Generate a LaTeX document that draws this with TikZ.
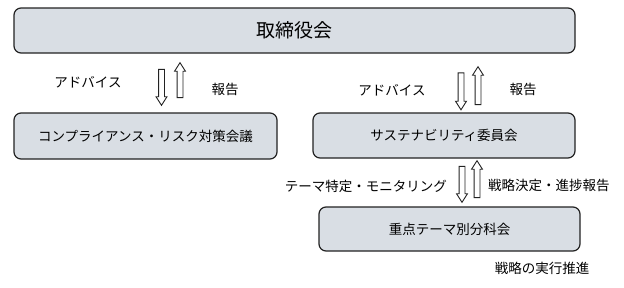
\documentclass[tikz,border=0pt]{standalone}
\usepackage{fontspec}
\setmainfont{Noto Sans CJK JP}
\usetikzlibrary{shapes.arrows}
\definecolor{boxfill}{HTML}{D9DEE4}
\definecolor{edge}{HTML}{222222}
\begin{document}
\begin{tikzpicture}[x=1pt,y=-1pt,
  box/.style={draw=edge, line width=1.2pt, fill=boxfill, rounded corners=7pt, inner sep=0pt},
  lbl/.style={font=\fontsize{13.5}{15}\selectfont, inner sep=0pt},
  harrow/.style={single arrow, draw=edge, fill=white, line width=0.9pt,
    minimum width=10pt, single arrow head extend=2.5pt, single arrow tip angle=65,
    inner xsep=0pt, inner ysep=2.5pt, minimum height=#1, anchor=center}
]
\useasboundingbox (0,0) rectangle (624,287);

% boxes
\node[box, minimum width=561pt, minimum height=45pt, font=\fontsize{19}{21}\selectfont] (board) at (294.5,30.5) {取締役会};
\node[box, minimum width=263pt, minimum height=46pt, lbl] (comp) at (145.5,136) {コンプライアンス・リスク対策会議};
\node[box, minimum width=262pt, minimum height=45pt, lbl] (sust) at (444,135.5) {サステナビリティ委員会};
\node[box, minimum width=261pt, minimum height=44pt, lbl] (sub) at (449.5,229) {重点テーマ別分科会};

% block arrows
\node[harrow=36pt, rotate=-90] (a1) at (161.5,85) {};
\node[harrow=35pt, rotate=90]  (a2) at (180,82.5) {};
\node[harrow=37pt, rotate=-90] (a3) at (461,89) {};
\node[harrow=38pt, rotate=90]  (a4) at (478,88) {};
\node[harrow=36pt, rotate=-90] (a5) at (462,182) {};
\node[harrow=37pt, rotate=90]  (a6) at (477,181.5) {};

% labels
\node[lbl] (l1) at (88,82) {アドバイス};
\node[lbl] (l2) at (225,89) {報告};
\node[lbl] (l3) at (392,90) {アドバイス};
\node[lbl] (l4) at (523,89) {報告};
\node[lbl, anchor=east] (l5) at (447,186) {テーマ特定・モニタリング};
\node[lbl, anchor=west] (l6) at (488,185) {戦略決定・進捗報告};
\node[lbl] (l7) at (542,268) {戦略の実行推進};
\end{tikzpicture}
\end{document}
